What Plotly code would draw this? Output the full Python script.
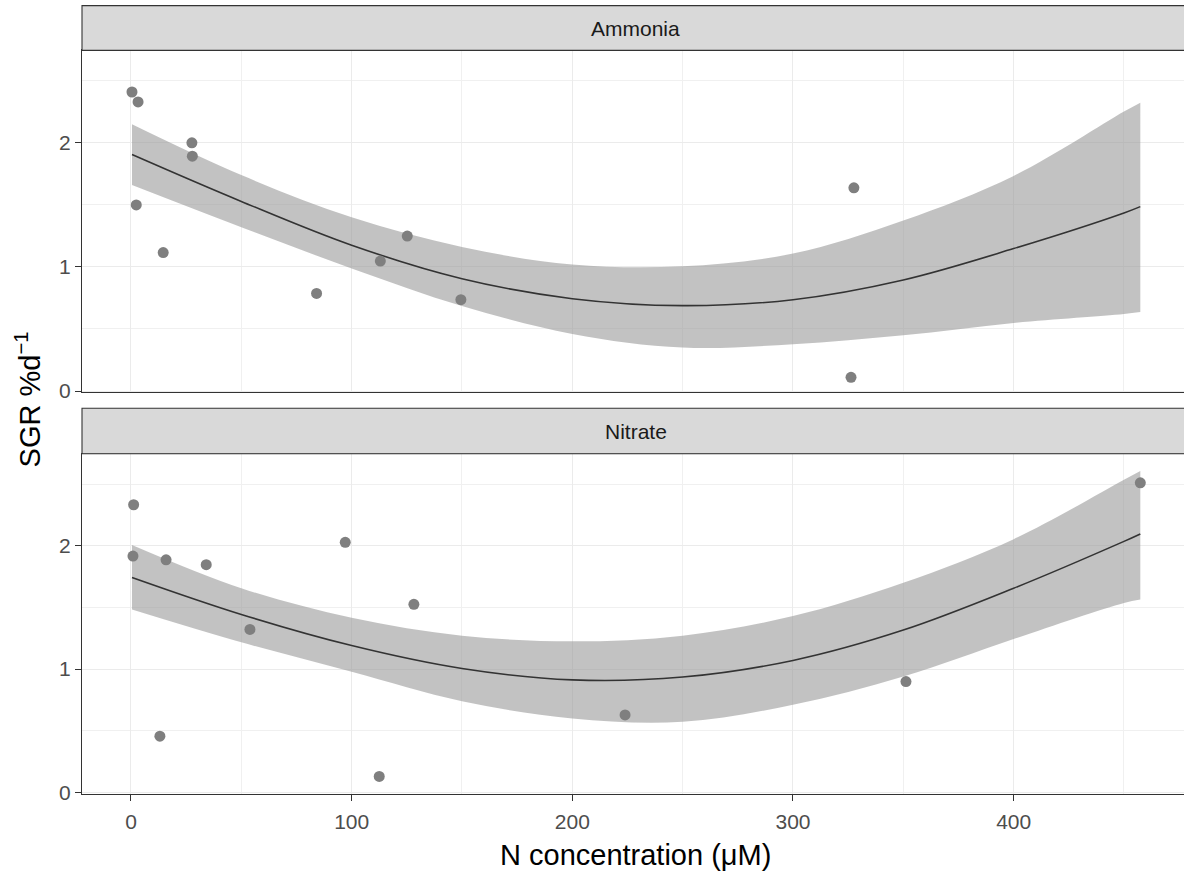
import plotly.graph_objects as go

# Observations: N concentration (uM) vs specific growth rate (% per day)
amm_x = [0.45, 3.2, 2.4, 14.6, 27.6, 27.8, 84.1, 113.0, 125.2, 149.5, 327.6, 326.3]
amm_y = [2.41, 2.33, 1.50, 1.116, 2.00, 1.893, 0.786, 1.047, 1.249, 0.736, 1.638, 0.110]

nit_x = [1.2, 0.9, 15.9, 34.1, 13.1, 53.9, 97.1, 112.5, 128.2, 223.9, 351.2, 457.4]
nit_y = [2.332, 1.916, 1.886, 1.846, 0.456, 1.321, 2.027, 0.130, 1.525, 0.628, 0.899, 2.510]

# Smoothed fit with confidence band, sampled along x
fit_x = [0.45, 50, 100, 150, 200, 250, 300, 350, 400, 450, 457.4]

amm_fit = [1.906, 1.528, 1.175, 0.905, 0.744, 0.688, 0.736, 0.895, 1.148, 1.435, 1.486]
amm_hi = [2.150, 1.740, 1.400, 1.161, 1.020, 1.005, 1.108, 1.374, 1.733, 2.252, 2.324]
amm_lo = [1.660, 1.320, 0.988, 0.685, 0.460, 0.350, 0.377, 0.449, 0.549, 0.621, 0.637]

nit_fit = [1.743, 1.443, 1.191, 1.005, 0.912, 0.935, 1.070, 1.316, 1.655, 2.035, 2.095]
nit_hi = [2.006, 1.655, 1.416, 1.271, 1.225, 1.271, 1.430, 1.700, 2.053, 2.535, 2.606]
nit_lo = [1.483, 1.217, 0.979, 0.740, 0.600, 0.573, 0.710, 0.939, 1.244, 1.536, 1.563]

panels = [("Ammonia", amm_x, amm_y, amm_fit, amm_hi, amm_lo, "x", "y"),
          ("Nitrate", nit_x, nit_y, nit_fit, nit_hi, nit_lo, "x2", "y2")]

W, H = 1184, 882
FONT = "Liberation Sans, Arial, sans-serif"
left = 82 / W

fig = go.Figure()
for name, px, py, fy, hi, lo, xa, ya in panels:
    fig.add_trace(go.Scatter(x=fit_x, y=lo, mode="lines", line=dict(width=0, shape="spline"),
                             hoverinfo="skip", showlegend=False, xaxis=xa, yaxis=ya))
    fig.add_trace(go.Scatter(x=fit_x, y=hi, mode="lines", line=dict(width=0, shape="spline"),
                             fill="tonexty", fillcolor="rgba(153,153,153,0.6)",
                             hoverinfo="skip", showlegend=False, xaxis=xa, yaxis=ya))
    fig.add_trace(go.Scatter(x=fit_x, y=fy, mode="lines",
                             line=dict(color="#333333", width=1.6, shape="spline"),
                             showlegend=False, xaxis=xa, yaxis=ya))
    fig.add_trace(go.Scatter(x=px, y=py, mode="markers",
                             marker=dict(color="#7F7F7F", size=11),
                             showlegend=False, xaxis=xa, yaxis=ya))

xrange = [-22.2, 477.2]
yrange = [-0.012, 2.745]

top_dom = [1 - 397 / H, 1 - 51 / H]
bot_dom = [1 - 803 / H, 1 - 459 / H]

grid = dict(showgrid=True, gridcolor="#EBEBEB", gridwidth=1.2, zeroline=False,
            showline=True, linecolor="#333333", linewidth=1.1)
minor_x = dict(dtick=50, tick0=0, showgrid=True, gridcolor="#F0F0F0", gridwidth=0.9)
minor_y = dict(dtick=0.5, tick0=0, showgrid=True, gridcolor="#F0F0F0", gridwidth=0.9)
tickfont = dict(family=FONT, size=21, color="#4D4D4D")

fig.update_layout(
    width=W, height=H,
    margin=dict(l=0, r=0, t=0, b=0),
    paper_bgcolor="white", plot_bgcolor="white",
    xaxis=dict(domain=[left, 1], anchor="y", range=xrange, tick0=0, dtick=100,
               showticklabels=False, ticks="", mirror=True, minor=minor_x, **grid),
    yaxis=dict(domain=top_dom, anchor="x", range=yrange, tick0=0, dtick=1,
               ticks="outside", ticklen=6, tickcolor="#333333", tickwidth=1.1,
               tickfont=tickfont, minor=minor_y, **grid),
    xaxis2=dict(domain=[left, 1], anchor="y2", range=xrange, tick0=0, dtick=100,
                ticks="outside", ticklen=6, tickcolor="#333333", tickwidth=1.1,
                ticklabelstandoff=3,
                tickfont=tickfont, mirror=True, minor=minor_x, **grid),
    yaxis2=dict(domain=bot_dom, anchor="x2", range=yrange, tick0=0, dtick=1,
                ticks="outside", ticklen=6, tickcolor="#333333", tickwidth=1.1,
                tickfont=tickfont, minor=minor_y, **grid),
)

# Facet strips
strips = [("Ammonia", 1 - 51 / H, 1 - 5.7 / H), ("Nitrate", 1 - 459 / H, 1 - 413 / H)]
for label, y0, y1 in strips:
    fig.add_shape(type="rect", xref="paper", yref="paper", x0=left, x1=1.01, y0=y0, y1=y1,
                  fillcolor="#D9D9D9", line=dict(color="#333333", width=1.1), layer="above")
    fig.add_annotation(text=label, xref="paper", yref="paper", x=(left + 1.005) / 2,
                       y=(y0 + y1) / 2, showarrow=False, xanchor="center", yanchor="middle",
                       font=dict(family=FONT, size=21, color="#1A1A1A"))

# Axis titles
fig.add_annotation(text="N concentration (\u03bcM)", xref="paper", yref="paper",
                   x=(left + 1.005) / 2, y=1 - 865 / H, showarrow=False,
                   xanchor="center", yanchor="middle",
                   font=dict(family=FONT, size=29, color="black"))
fig.add_annotation(text="SGR %d<sup>\u22121</sup>", xref="paper", yref="paper",
                   x=28 / W, y=1 - 404 / H, showarrow=False, textangle=-90,
                   xanchor="center", yanchor="middle",
                   font=dict(family=FONT, size=29, color="black"))

fig.write_html("out.html")
